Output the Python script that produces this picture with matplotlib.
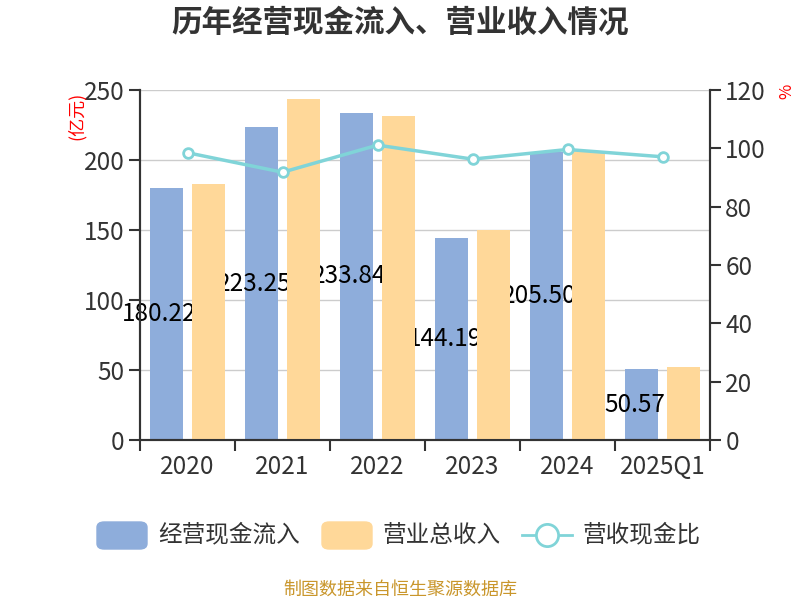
import matplotlib.pyplot as plt
import numpy as np
from matplotlib.patches import FancyBboxPatch
from matplotlib.lines import Line2D

plt.rcParams['font.family'] = ['Noto Sans CJK SC', 'DejaVu Sans']

# data
years = ["2020", "2021", "2022", "2023", "2024", "2025Q1"]
cash_in = [180.22, 223.25, 233.84, 144.19, 205.50, 50.57]
revenue = [183.0, 243.4, 231.3, 149.8, 206.4, 52.1]
ratio = [98.5, 91.8, 101.1, 96.3, 99.6, 97.1]

blue = "#8EADDB"
orange = "#FFD899"
teal = "#80D4D8"
dark = "#333333"

fig = plt.figure(figsize=(8, 6), dpi=100)
ax = fig.add_axes([0.175, 0.2667, 0.7125, 0.5833])
ax2 = ax.twinx()

x = np.arange(len(years))
off = 0.224
w = 0.35
ax.bar(x - off, cash_in, width=w, color=blue, zorder=2)
# labels sit under the orange bars, like the original
for xi, v in zip(x, cash_in):
    ax.text(xi - off - 0.07, v / 2, f"{v:.2f}", ha='center', va='center',
            fontsize=17.5, color='black', zorder=3)
ax.bar(x + off, revenue, width=w, color=orange, zorder=4)

ax.set_xlim(-0.5, len(years) - 0.5)
ax.set_ylim(0, 250)
ax.set_yticks(np.arange(0, 251, 50))
ax.grid(axis='y', color='#cccccc', linewidth=1, zorder=0)
ax.set_axisbelow(True)

ax.set_xticks(x)
ax.set_xticklabels(years)
ax.set_xticks(np.arange(-0.5, len(years), 1), minor=True)
ax.tick_params(axis='x', which='major', length=0, pad=10, labelsize=17.5, labelcolor=dark)
ax.tick_params(axis='x', which='minor', length=8, width=1.5, color=dark)
ax.tick_params(axis='y', length=8, width=1.5, color=dark, labelsize=17.5, labelcolor=dark, pad=3)

ax2.plot(x, ratio, color=teal, linewidth=2.5, marker='o', markersize=7,
         markerfacecolor='white', markeredgecolor=teal, markeredgewidth=2, zorder=5)
ax2.set_ylim(0, 120)
ax2.set_yticks(np.arange(0, 121, 20))
ax2.tick_params(axis='y', length=8, width=1.5, color=dark, labelsize=17.5, labelcolor=dark, pad=3)

for a in (ax, ax2):
    a.spines['top'].set_visible(False)
    for s in ('left', 'right', 'bottom'):
        a.spines[s].set_color(dark)
        a.spines[s].set_linewidth(1.5)

fig.text(0.096, 0.8075, "(亿元)", rotation=90, color='red', fontsize=13, ha='center', va='center')
fig.text(0.984, 0.848, "%", rotation=90, color='red', fontsize=12, ha='center', va='center')

fig.text(0.5, 0.962, "历年经营现金流入、营业收入情况", ha='center', va='center',
         fontsize=22, fontweight='bold', color=dark)

# legend
ly = 1 - 535 / 600
fig.add_artist(FancyBboxPatch((97 / 800, 1 - 549 / 600), 50 / 800, 27 / 600,
                              boxstyle="round,pad=0,rounding_size=0.009",
                              transform=fig.transFigure, color=blue))
fig.text(158 / 800, ly, "经营现金流入", fontsize=17, color=dark, va='center')
fig.add_artist(FancyBboxPatch((322 / 800, 1 - 549 / 600), 50 / 800, 27 / 600,
                              boxstyle="round,pad=0,rounding_size=0.009",
                              transform=fig.transFigure, color=orange))
fig.text(383 / 800, ly, "营业总收入", fontsize=17, color=dark, va='center')
fig.add_artist(Line2D([522 / 800, 572 / 800], [ly, ly],
                      transform=fig.transFigure, color=teal, linewidth=2))
fig.add_artist(Line2D([547 / 800], [ly], transform=fig.transFigure,
                      marker='o', markersize=16, markerfacecolor='white',
                      markeredgecolor=teal, markeredgewidth=2))
fig.text(583 / 800, ly, "营收现金比", fontsize=17, color=dark, va='center')

fig.text(0.5, 1 - 590 / 600, "制图数据来自恒生聚源数据库", ha='center', va='center',
         fontsize=13, color='#C9962B')

fig.savefig("out.png", dpi=100)
